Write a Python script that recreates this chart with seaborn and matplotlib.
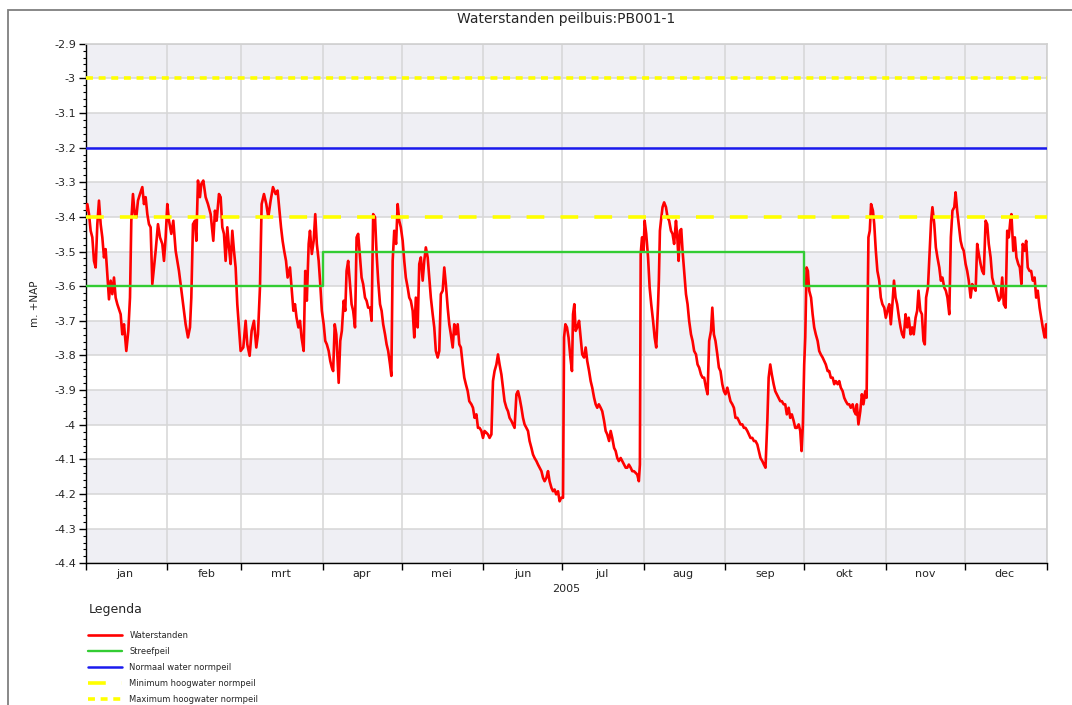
import numpy as np
import pandas as pd
import matplotlib.pyplot as plt
import matplotlib.dates as mdates
import matplotlib.ticker as mticker
from matplotlib.patches import Rectangle
import seaborn as sns

# ── Stijl ────────────────────────────────────────────────────
sns.set_theme(style="white")
plt.rcParams["font.family"] = ["DejaVu Sans"]
plt.rcParams["lines.scale_dashes"] = False

# ── Data ─────────────────────────────────────────────────────
JAAR = "2005"
MAANDEN = ["jan", "feb", "mrt", "apr", "mei", "jun",
           "jul", "aug", "sep", "okt", "nov", "dec"]

# dag van het jaar (0 = 1 jan) en gemeten waterstand (m +NAP)
dagnummer = [
    0.0, 0.63, 1.27, 1.90, 2.53, 3.16, 3.80, 4.43, 5.06, 5.70,
    6.33, 6.96, 7.59, 8.23, 8.86, 9.49, 10.13, 10.76, 11.39, 12.03,
    13.29, 13.92, 14.56, 15.44, 16.2, 16.84, 17.34, 17.97, 18.61, 19.24,
    19.87, 20.63, 21.52, 22.15, 22.78, 23.42, 24.05, 24.68, 25.32, 25.95,
    26.58, 27.47, 28.23, 29.11, 29.75, 30.38, 31.01, 31.65, 32.53, 33.29,
    34.18, 35.44, 36.71, 37.97, 38.86, 39.62, 40.13, 40.76, 41.52, 42.03,
    42.66, 43.42, 43.92, 44.68, 45.57, 46.46, 47.47, 48.48, 49.11, 49.75,
    50.63, 51.27, 51.90, 52.53, 53.16, 53.80, 54.43, 55.06, 55.70, 56.33,
    56.96, 57.59, 58.23, 58.86, 59.87, 60.76, 61.39, 62.28, 63.04, 63.92,
    64.81, 65.44, 66.20, 66.84, 67.72, 68.61, 69.37, 70.25, 71.14, 72.15,
    72.9, 73.5, 74.2, 74.8, 75.4, 76.1, 76.7, 77.6, 78.2, 78.9,
    79.5, 80.1, 80.8, 81.4, 82.0, 82.8, 83.4, 84.0, 84.7, 85.2,
    85.9, 86.6, 87.2, 87.8, 88.5, 89.1, 89.7, 90.4, 91.0, 91.6,
    92.3, 92.9, 93.5, 94.0, 94.6, 95.2, 96.1, 96.7, 97.3, 98.0,
    98.6, 99.1, 99.7, 100.4, 101.0, 101.6, 102.3, 102.9, 103.5, 104.2,
    104.8, 105.4, 106.1, 106.7, 107.3, 108.0, 108.6, 109.2, 109.9, 110.5,
    111.1, 111.8, 112.4, 113.0, 113.7, 114.3, 114.9, 115.6, 116.1, 116.6,
    117.2, 117.9, 118.5, 119.1, 119.7, 120.4, 121.0, 121.6, 122.3, 122.9,
    123.5, 124.2, 124.8, 125.4, 126.1, 126.7, 127.3, 128.0, 128.6, 129.2,
    129.9, 130.5, 131.1, 131.8, 132.4, 133.0, 133.7, 134.3, 134.9, 135.6,
    136.2, 136.8, 137.5, 138.1, 138.7, 139.4, 140.0, 140.6, 141.3, 141.9,
    142.5, 143.2, 143.8, 144.4, 145.1, 145.7,
    146.5, 147.1, 147.7, 148.4, 149.0, 149.6, 150.3, 150.9, 151.5, 152.2,
    152.8, 153.4, 154.1, 154.7, 155.3, 156.0, 156.6, 157.2, 157.9, 158.5,
    159.1, 159.8, 160.4, 161.0, 161.7, 162.3, 162.9, 163.6, 164.2, 164.8,
    165.5, 166.1, 166.7, 167.4, 168.0, 168.6, 169.3, 169.9, 170.5, 171.2,
    171.8, 172.4, 173.1, 173.7, 174.3, 175.0, 175.6, 176.2, 176.9, 177.5,
    178.1, 178.7, 179.4, 180.0, 180.6, 181.3, 181.7, 182.2, 182.8, 183.4,
    184.1, 184.7, 185.1, 185.6, 186.1, 186.7, 187.4, 188.0, 188.6, 189.3,
    189.9, 190.5, 191.2, 191.8, 192.4, 193.1, 193.7, 194.3, 194.9, 195.6,
    196.2, 196.9, 197.5, 198.1, 198.8, 199.4, 200.0, 200.7, 201.3, 201.9,
    202.5, 203.2, 203.8, 204.5, 205.1, 205.7, 206.3, 207.0, 207.6, 208.2,
    208.9, 209.5, 210.1, 210.5, 210.8, 211.3, 211.9, 212.3, 212.9, 213.6,
    214.2, 214.8, 215.5, 216.1, 216.7, 217.4, 217.7, 218.1,
    218.5, 219.1, 219.7, 220.4, 221.0, 221.6, 222.3, 222.9, 223.5, 224.2,
    224.7, 225.2, 225.7, 226.2, 226.7, 227.3, 228.0, 228.6, 229.2, 229.9,
    230.5, 231.1, 231.8, 232.4, 233.0, 233.7, 234.3, 234.9, 235.6, 236.2,
    236.8, 237.5, 238.0, 238.6, 239.2, 239.9, 240.5, 241.1, 241.8, 242.4,
    243.0, 243.7, 244.3, 244.9, 245.6, 246.2, 246.8, 247.5, 248.1, 248.7,
    249.4, 250.0, 250.6, 251.3, 251.9, 252.5, 253.2, 253.8, 254.4, 255.1,
    255.7, 256.3, 257.0, 257.6, 258.2, 258.9, 259.4, 260.0, 260.6, 261.3,
    261.9, 262.5, 263.2, 263.8, 264.4, 265.1, 265.7, 266.3, 267.0, 267.6,
    268.2, 268.9, 269.5, 270.1, 270.8, 271.4, 271.9, 272.4, 272.9, 273.3,
    273.6, 273.8, 274.3, 274.8, 275.5, 276.1, 276.7, 277.3, 278.0, 278.6,
    279.2, 279.9, 280.5, 281.1, 281.8, 282.4, 283.0, 283.7, 284.3, 284.9,
    285.6, 286.2, 286.8, 287.5, 288.1, 288.7, 289.4, 290.0, 290.6, 291.3,
    291.9, 292.5,
    292.9, 293.5, 294.2, 294.8, 295.4, 296.1, 296.6, 297.0, 297.3, 297.8,
    298.3, 299.0, 299.5, 300.1, 300.7, 301.4, 302.0, 302.6, 303.3, 303.9,
    304.5, 305.2, 305.8, 306.4, 307.0, 307.6, 308.2, 308.9, 309.5, 310.1,
    310.7, 311.4, 312.0, 312.6, 313.3, 313.9, 314.5, 315.2, 315.8, 316.3,
    317.0, 317.6, 318.2, 318.7, 319.2, 319.9, 320.5, 321.1, 321.6, 322.3,
    322.9, 323.5, 324.2, 324.8, 325.4, 326.1, 326.7, 327.3, 328.0, 328.6,
    329.2, 329.9, 330.4, 331.0, 331.6, 332.3, 332.9, 333.5, 334.2, 334.8,
    335.4, 336.1, 336.7, 337.3, 338.0, 338.6, 339.2, 339.9, 340.5, 341.1,
    341.8, 342.4, 343.0, 343.7, 344.3, 344.9, 345.6, 346.2, 346.8, 347.5,
    348.1, 348.7, 349.4, 350.0, 350.6, 351.3, 351.6, 352.3, 352.9, 353.5,
    354.2, 354.8, 355.4, 355.9, 356.6, 357.2, 357.8, 358.5, 359.1, 359.7,
    360.4, 361.0, 361.6, 362.3, 362.9, 363.5, 364.2, 364.8, 365.0,
]

waterstand = [
    -3.382, -3.363, -3.392, -3.440, -3.459, -3.527, -3.546, -3.421, -3.353, -3.421,
    -3.459, -3.517, -3.493, -3.565, -3.638, -3.584, -3.623, -3.575, -3.633, -3.652,
    -3.681, -3.739, -3.710, -3.787, -3.729, -3.633, -3.411, -3.334, -3.392, -3.401,
    -3.353, -3.334, -3.314, -3.363, -3.343, -3.392, -3.421, -3.430, -3.594, -3.546,
    -3.498, -3.421, -3.459, -3.478, -3.527, -3.459, -3.363, -3.411, -3.449, -3.411,
    -3.498, -3.556, -3.633, -3.710, -3.748, -3.719, -3.633, -3.421, -3.411, -3.469,
    -3.295, -3.343, -3.305, -3.295, -3.343, -3.363, -3.392, -3.469, -3.382, -3.411,
    -3.334, -3.343, -3.430, -3.449, -3.527, -3.430, -3.488, -3.536, -3.440, -3.498,
    -3.546, -3.652, -3.719, -3.787, -3.777, -3.700, -3.768, -3.801, -3.729, -3.700,
    -3.777, -3.739, -3.604, -3.363, -3.334, -3.363, -3.401, -3.353, -3.314, -3.334,
    -3.324, -3.372, -3.430, -3.469, -3.498, -3.527, -3.575, -3.546, -3.604, -3.671,
    -3.652, -3.691, -3.719, -3.700, -3.748, -3.787, -3.556, -3.642, -3.478, -3.440,
    -3.507, -3.469, -3.392, -3.478, -3.527, -3.594, -3.671, -3.710, -3.758, -3.768,
    -3.787, -3.816, -3.835, -3.845, -3.710, -3.739, -3.879, -3.758, -3.729, -3.642,
    -3.671, -3.556, -3.527, -3.594, -3.652, -3.671, -3.719, -3.459, -3.449, -3.517,
    -3.575, -3.594, -3.633, -3.642, -3.662, -3.662, -3.700, -3.392, -3.401, -3.507,
    -3.584, -3.652, -3.671, -3.710, -3.739, -3.768, -3.787, -3.826, -3.859, -3.527,
    -3.440, -3.478, -3.363, -3.411, -3.430, -3.469, -3.527, -3.575, -3.604, -3.633,
    -3.642, -3.671, -3.748, -3.633, -3.719, -3.536, -3.517, -3.584, -3.527, -3.488,
    -3.517, -3.575, -3.633, -3.681, -3.719, -3.787, -3.806, -3.787, -3.623, -3.613,
    -3.546, -3.594, -3.662, -3.710, -3.739, -3.777, -3.710, -3.739, -3.710, -3.768,
    -3.777, -3.826, -3.864, -3.883, -3.903, -3.932,
    -3.941, -3.951, -3.980, -3.970, -4.009, -4.009, -4.018, -4.038, -4.018, -4.023,
    -4.028, -4.038, -4.028, -3.874, -3.845, -3.826, -3.797, -3.826, -3.855, -3.893,
    -3.932, -3.951, -3.961, -3.980, -3.989, -3.999, -4.009, -3.912, -3.903, -3.922,
    -3.951, -3.980, -3.999, -4.009, -4.018, -4.047, -4.067, -4.086, -4.096, -4.105,
    -4.115, -4.124, -4.134, -4.153, -4.163, -4.153, -4.134, -4.163, -4.182, -4.192,
    -4.187, -4.201, -4.192, -4.221, -4.211, -4.211, -3.748, -3.710, -3.719, -3.748,
    -3.806, -3.845, -3.681, -3.652, -3.729, -3.719, -3.700, -3.748, -3.797, -3.806,
    -3.777, -3.816, -3.845, -3.874, -3.893, -3.922, -3.941, -3.951, -3.941, -3.951,
    -3.961, -3.989, -4.018, -4.028, -4.047, -4.018, -4.038, -4.067, -4.076, -4.096,
    -4.105, -4.096, -4.105, -4.115, -4.124, -4.124, -4.115, -4.124, -4.134, -4.134,
    -4.139, -4.144, -4.163, -4.115, -3.507, -3.459, -3.498, -3.411, -3.449, -3.517,
    -3.604, -3.652, -3.700, -3.748, -3.777, -3.652, -3.584, -3.440,
    -3.411, -3.372, -3.358, -3.372, -3.401, -3.411, -3.440, -3.449, -3.478, -3.411,
    -3.459, -3.527, -3.440, -3.435, -3.498, -3.556, -3.623, -3.652, -3.700, -3.739,
    -3.758, -3.787, -3.797, -3.826, -3.835, -3.855, -3.864, -3.864, -3.893, -3.912,
    -3.758, -3.729, -3.662, -3.739, -3.758, -3.797, -3.835, -3.845, -3.883, -3.903,
    -3.912, -3.893, -3.912, -3.932, -3.941, -3.951, -3.980, -3.980, -3.989, -3.999,
    -3.999, -4.009, -4.009, -4.018, -4.028, -4.038, -4.038, -4.047, -4.047, -4.057,
    -4.076, -4.096, -4.105, -4.115, -4.124, -3.989, -3.864, -3.826, -3.855, -3.883,
    -3.903, -3.912, -3.922, -3.932, -3.932, -3.941, -3.941, -3.970, -3.951, -3.980,
    -3.970, -3.989, -4.009, -4.009, -3.999, -4.018, -4.076, -3.999, -3.826, -3.748,
    -3.633, -3.546, -3.556, -3.613, -3.633, -3.681, -3.719, -3.739, -3.758, -3.787,
    -3.797, -3.806, -3.816, -3.826, -3.845, -3.845, -3.864, -3.864, -3.883, -3.874,
    -3.883, -3.874, -3.893, -3.903, -3.922, -3.932, -3.941, -3.941, -3.951, -3.941,
    -3.961, -3.970,
    -3.941, -3.999, -3.961, -3.912, -3.941, -3.903, -3.922, -3.652, -3.459, -3.440,
    -3.363, -3.382, -3.421, -3.498, -3.556, -3.584, -3.633, -3.652, -3.662, -3.691,
    -3.671, -3.652, -3.710, -3.652, -3.584, -3.633, -3.652, -3.691, -3.719, -3.739,
    -3.748, -3.681, -3.719, -3.691, -3.739, -3.719, -3.739, -3.691, -3.671, -3.613,
    -3.671, -3.681, -3.758, -3.768, -3.633, -3.604, -3.507, -3.411, -3.372, -3.421,
    -3.488, -3.517, -3.546, -3.584, -3.575, -3.604, -3.613, -3.633, -3.681, -3.459,
    -3.382, -3.372, -3.329, -3.382, -3.421, -3.469, -3.488, -3.498, -3.536, -3.556,
    -3.584, -3.633, -3.594, -3.604, -3.613, -3.478, -3.507, -3.536, -3.556, -3.565,
    -3.411, -3.421, -3.478, -3.517, -3.575, -3.594, -3.604, -3.623, -3.642, -3.633,
    -3.575, -3.652, -3.662, -3.440, -3.459, -3.401, -3.392, -3.498, -3.459, -3.517,
    -3.536, -3.546, -3.594, -3.478, -3.498, -3.469, -3.546, -3.556, -3.556, -3.584,
    -3.575, -3.633, -3.613, -3.662, -3.691, -3.719, -3.748, -3.710, -3.748,
]

# streefpeil (trapfunctie)
streef_datum = ["2005-01-01", "2005-04-01", "2005-10-01", "2006-01-01"]
streef_waarde = [-3.6, -3.5, -3.6, -3.6]

normaal_peil = -3.2
min_hoogwater = -3.4
max_hoogwater = -3.0

y_ticks = [-4.4, -4.3, -4.2, -4.1, -4.0, -3.9, -3.8, -3.7, -3.6, -3.5,
           -3.4, -3.3, -3.2, -3.1, -3.0, -2.9]

# ── Voorbereiden ─────────────────────────────────────────────
start = pd.Timestamp(f"{JAAR}-01-01")
df = pd.DataFrame({
    "datum": start + pd.to_timedelta(dagnummer, unit="D"),
    "waterstand": waterstand,
})
streef = pd.DataFrame({"datum": pd.to_datetime(streef_datum),
                       "peil": streef_waarde})

# ── Figuur ───────────────────────────────────────────────────
fig = plt.figure(figsize=(10.72, 7.05), dpi=100)
ax = fig.add_axes([0.0799, 0.201, 0.8965, 0.737])
ax.set_facecolor("white")

# afwisselende banden
for i in range(len(y_ticks) - 1):
    if i % 2 == 0:
        ax.axhspan(y_ticks[i], y_ticks[i + 1], color="#efeff4", lw=0, zorder=0)

sns.lineplot(data=df, x="datum", y="waterstand", ax=ax, color="#ff0000",
             lw=1.9, estimator=None, zorder=3, label="Waterstanden")
ax.step(streef["datum"], streef["peil"], where="post", color="#33cc33",
        lw=1.7, zorder=4, label="Streefpeil")
ax.axhline(normaal_peil, color="#1a1aee", lw=1.8, zorder=4,
           label="Normaal water normpeil")
ax.axhline(min_hoogwater, color="#ffff00", lw=2.6, dashes=(12.8, 11.6),
           zorder=5, label="Minimum hoogwater normpeil")
ax.axhline(max_hoogwater, color="#ffff00", lw=2.6, dashes=(5.0, 4.1),
           zorder=5, label="Maximum hoogwater normpeil")

# assen
ax.set_xlim(start, pd.Timestamp("2006-01-01"))
ax.set_ylim(y_ticks[0], y_ticks[-1])

ax.yaxis.set_major_locator(mticker.FixedLocator(y_ticks))
ax.yaxis.set_minor_locator(mticker.MultipleLocator(0.02))
ax.yaxis.set_major_formatter(mticker.FuncFormatter(lambda v, p: f"{v:g}"))

ax.xaxis.set_major_locator(mdates.MonthLocator())
ax.xaxis.set_major_formatter(mticker.NullFormatter())
ax.xaxis.set_minor_locator(mdates.MonthLocator(bymonthday=16))
ax.xaxis.set_minor_formatter(mticker.FuncFormatter(
    lambda v, p: MAANDEN[mdates.num2date(v).month - 1]))

ax.tick_params(axis="y", which="major", direction="out", length=5, width=1,
               color="black", labelsize=8, pad=2, left=True)
ax.tick_params(axis="y", which="minor", direction="out", length=2.5,
               width=0.8, color="black", left=True)
ax.tick_params(axis="x", which="major", direction="out", length=5, width=1,
               color="black", bottom=True)
ax.tick_params(axis="x", which="minor", length=0, labelsize=8, pad=4)

ax.grid(which="major", color="#d6d6d6", lw=1.1, zorder=1)
ax.set_axisbelow(True)

for side in ["top", "right"]:
    ax.spines[side].set_color("#d0d0d0")
    ax.spines[side].set_linewidth(1.2)
for side in ["left", "bottom"]:
    ax.spines[side].set_color("black")
    ax.spines[side].set_linewidth(1.0)

ax.set_xlabel(JAAR, fontsize=8, labelpad=4)
ax.set_ylabel("m. +NAP", fontsize=7.5, labelpad=10)
ax.set_title("Waterstanden peilbuis:PB001-1", fontsize=10, pad=15)

# legenda onder de grafiek
handles, labels = ax.get_legend_handles_labels()
if ax.legend_ is not None:
    ax.legend_.remove()
fig.text(89 / 1072, 1 - 610 / 705, "Legenda", fontsize=9,
         ha="left", va="center")
fig.legend(handles, labels, loc="upper left",
           bbox_to_anchor=(88 / 1072, 1 - 631 / 705),
           fontsize=6, frameon=False,
           handlelength=4.1, handletextpad=0.85, labelspacing=0.84,
           borderpad=0, borderaxespad=0)

# grijze rand rond de figuur
fig.add_artist(Rectangle((8 / 1072, -0.5), 2, 1.5 - 10 / 705,
                         transform=fig.transFigure, fill=False,
                         edgecolor="#7f7f7f", lw=1.3, clip_on=False))

fig.savefig("out.png", dpi=100)
